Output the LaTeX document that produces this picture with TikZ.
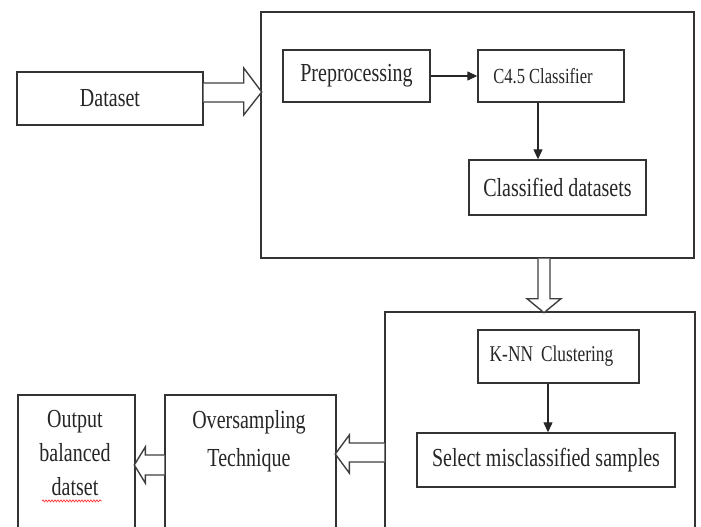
\documentclass[tikz,border=0pt]{standalone}
\usepackage{fontspec}
\setmainfont{Liberation Serif}[FakeStretch=0.77]
\usetikzlibrary{calc,arrows.meta,decorations.pathmorphing}
\begin{document}
\begin{tikzpicture}[x=1pt,y=-1pt,
  box/.style={draw=black!80, line width=1.4pt, rectangle, inner sep=0pt, fill=white},
  txt/.style={font=\fontsize{26}{36}\selectfont, text=black!85, align=center, inner sep=0pt},
  small/.style={font=\fontsize{21.5}{24}\selectfont, text=black!85, inner sep=0pt},
  arr/.style={draw=black!85, line width=1.2pt, -{Triangle[length=10pt,width=9pt]}},
  hollow/.style={draw=black!75, line width=1.4pt, fill=white, line join=miter}]
\clip (0,0) rectangle (701,527);
\fill[white] (0,0) rectangle (701,527);

% big containers
\node[box, minimum width=433pt, minimum height=246pt] (bigA) at (477.5,135) {};
\node[box, minimum width=310pt, minimum height=228pt] (bigB) at (540,426) {};

% boxes
\node[box, txt, minimum width=186pt, minimum height=53pt] (ds) at (110,98.5) {Dataset};
\node[box, txt, minimum width=147pt, minimum height=52pt] (pre) at (356.5,76) {Preprocessing};
\node[box, minimum width=146pt, minimum height=52pt] (c45) at (551,76) {};
\node[small] (c45t) at ($(c45)+(-8,0)$) {C4.5 Classifier};
\node[box, txt, minimum width=177pt, minimum height=55pt] (cls) at (557.5,187.5) {Classified datasets};
\node[box, minimum width=161pt, minimum height=53pt] (knn) at (558.5,356.5) {};
\node[small, font=\fontsize{22.5}{24}\selectfont] (knnt) at ($(knn)+(-7,0)$) {K-NN\, Clustering};
\node[box, txt, minimum width=258pt, minimum height=54pt] (sel) at (546,460) {Select misclassified samples};
\node[box, minimum width=171pt, minimum height=145pt] (ovs) at (250.5,467.5) {};
\node[txt, font=\fontsize{26}{38}\selectfont, anchor=north] (ovst) at (249,410) {Oversampling\\Technique};
\node[box, minimum width=117pt, minimum height=145pt] (out) at (76.5,467.5) {};
\node[txt, font=\fontsize{26}{34}\selectfont, anchor=north] (outt) at (75,410) {Output\\balanced\\datset};
\draw[red!80, line width=0.7pt, decorate, decoration={snake, amplitude=1pt, segment length=3pt}]
  ($(outt.south)+(-33,5)$) -- ($(outt.south)+(27,5)$);

% thin arrows
\draw[arr] (pre) -- (c45);
\draw[arr] ([xshift=-13pt]c45.south) -- ([xshift=-13pt]c45.south |- cls.north);
\draw[arr] ([xshift=-10.5pt]knn.south) -- ([xshift=-10.5pt]knn.south |- sel.north);

% hollow block arrows
\draw[hollow] ($(ds.east)+(0,-15.5)$) -- ($(ds.east)+(40,-15.5)$) -- ($(ds.east)+(40,-30.5)$)
  -- ($(ds.east)+(58,-6.5)$) -- ($(ds.east)+(40,16.5)$) -- ($(ds.east)+(40,3.5)$) -- ($(ds.east)+(0,3.5)$);
\draw[hollow] ($(bigA.south)+(60.5,0)$) -- ($(bigA.south)+(60.5,40)$) -- ($(bigA.south)+(49.5,40)$)
  -- ($(bigA.south)+(66.5,54)$) -- ($(bigA.south)+(83.5,40)$) -- ($(bigA.south)+(72.5,40)$) -- ($(bigA.south)+(72.5,0)$);
\draw[hollow] ($(bigB.west)+(0,17)$) -- ($(bigB.west)+(-35,17)$) -- ($(bigB.west)+(-35,9)$)
  -- ($(bigB.west)+(-49,28)$) -- ($(bigB.west)+(-35,47)$) -- ($(bigB.west)+(-35,36)$) -- ($(bigB.west)+(0,36)$);
\draw[hollow] ($(ovs.west)+(0,-12.5)$) -- ($(ovs.west)+(-19,-12.5)$) -- ($(ovs.west)+(-19,-20.5)$)
  -- ($(ovs.west)+(-30,-2.5)$) -- ($(ovs.west)+(-19,15.5)$) -- ($(ovs.west)+(-19,7.5)$) -- ($(ovs.west)+(0,7.5)$);
\end{tikzpicture}
\end{document}
